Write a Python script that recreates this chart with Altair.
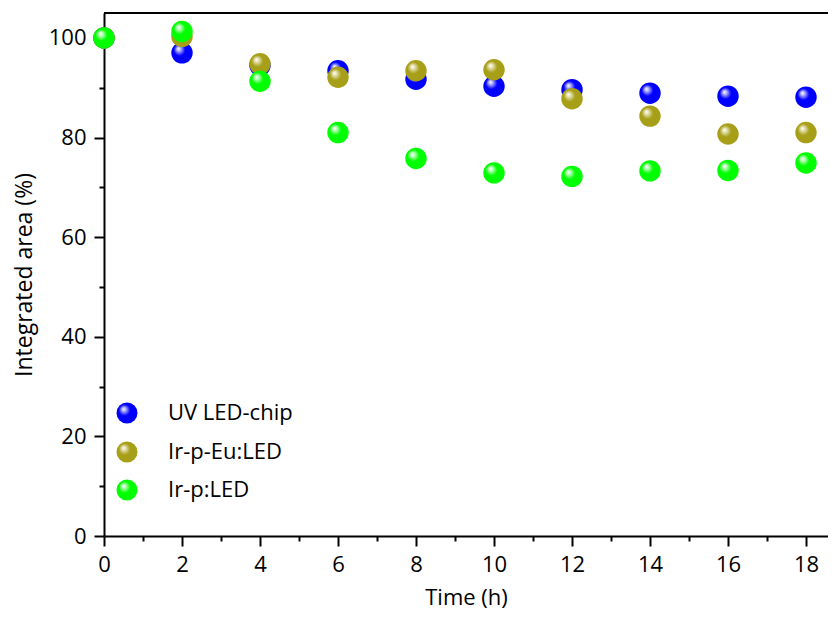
import altair as alt
import pandas as pd

times = [0, 2, 4, 6, 8, 10, 12, 14, 16, 18]
uv_chip = [100, 97.0, 94.5, 93.4, 91.7, 90.3, 89.6, 88.9, 88.3, 88.1]
ir_p_eu = [100, 100.3, 94.8, 92.1, 93.4, 93.6, 87.8, 84.3, 80.7, 81.0]
ir_p = [100, 101.3, 91.3, 81.0, 75.8, 72.9, 72.2, 73.3, 73.4, 74.9]

series_names = ["UV LED-chip", "Ir-p-Eu:LED", "Ir-p:LED"]
series_values = [uv_chip, ir_p_eu, ir_p]
series_colors = ["#0000FF", "#A89F18", "#00FF00"]
highlight = ["#C8C8FF", "#EDEAC8", "#D0FFD0"]

W, H = 724, 523
FONT = "Open Sans"


def grad(color, hl):
    return {
        "gradient": "radial",
        "x1": 0.33, "y1": 0.3, "r1": 0.0,
        "x2": 0.45, "y2": 0.45, "r2": 0.6,
        "stops": [
            {"offset": 0.0, "color": "#FFFFFF"},
            {"offset": 0.12, "color": hl},
            {"offset": 0.45, "color": color},
            {"offset": 1.0, "color": color},
        ],
    }


x_scale = alt.Scale(domain=[0, W / 39.0], nice=False, zero=False)
y_scale = alt.Scale(domain=[0, 105], nice=False)

x_axis = alt.Axis(
    values=list(range(0, 19)),
    labelExpr="datum.value % 2 ? '' : datum.label",
    tickSize={"condition": {"test": "datum.value % 2", "value": 5}, "value": 10},
    title="Time (h)", grid=False, labelFlush=False,
)
y_axis = alt.Axis(
    values=list(range(0, 101, 10)),
    labelExpr="datum.value % 20 ? '' : datum.label",
    tickSize={"condition": {"test": "datum.value % 20", "value": 5}, "value": 10},
    title="Integrated area (%)", grid=False, labelFlush=False,
)

layers = []
for i, (name, vals) in enumerate(zip(series_names, series_values)):
    df = pd.DataFrame({"t": times, "v": vals, "s": name})
    ch = alt.Chart(df).mark_circle(
        size=460, opacity=1, fill=grad(series_colors[i], highlight[i])
    ).encode(
        x=alt.X("t:Q", scale=x_scale, axis=x_axis),
        y=alt.Y("v:Q", scale=y_scale, axis=y_axis),
    )
    layers.append(ch)

# legend
leg_y = [400, 439, 477]
for i, name in enumerate(series_names):
    ldf = pd.DataFrame({"label": [name]})
    sym = alt.Chart(ldf).mark_circle(
        size=440, opacity=1, fill=grad(series_colors[i], highlight[i])
    ).encode(x=alt.value(23), y=alt.value(leg_y[i]))
    txt = alt.Chart(ldf).mark_text(
        align="left", baseline="middle", font=FONT, fontSize=22, color="black"
    ).encode(x=alt.value(64), y=alt.value(leg_y[i]), text="label:N")
    layers += [sym, txt]

top = alt.Chart(pd.DataFrame({"a": [0]})).mark_rule(color="black", strokeWidth=2).encode(
    x=alt.value(0), x2=alt.value(W), y=alt.value(0)
)
layers.append(top)

chart = alt.layer(*layers).properties(
    width=W, height=H,
    autosize=alt.AutoSizeParams(type="none"),
    padding={"left": 96, "top": 5, "right": 0, "bottom": 80},
).configure_view(stroke=None).configure_axis(
    domainColor="black", domainWidth=2, tickColor="black", tickWidth=2,
    labelColor="black", labelFont=FONT, labelFontSize=22, titleFont=FONT,
    titleFontSize=23, titleFontWeight="normal", titleColor="black",
).configure_axisX(titlePadding=12, labelPadding=8, titleFontSize=22).configure_axisY(titlePadding=12, labelPadding=8)

chart.save("out.html", embed_options={"renderer": "svg", "actions": False})
